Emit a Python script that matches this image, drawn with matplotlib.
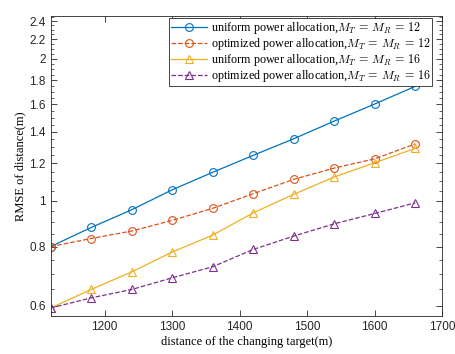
import numpy as np
import matplotlib
matplotlib.use("Agg")
import matplotlib.pyplot as plt
from matplotlib.ticker import FixedLocator, NullFormatter, FixedFormatter

x = [1120, 1180, 1240, 1300, 1360, 1420, 1480, 1540, 1600, 1660]
uniform_12 = [0.800, 0.878, 0.957, 1.055, 1.149, 1.248, 1.353, 1.475, 1.603, 1.747]
optimized_12 = [0.800, 0.832, 0.863, 0.909, 0.964, 1.035, 1.110, 1.173, 1.227, 1.320]
uniform_16 = [0.593, 0.649, 0.707, 0.779, 0.846, 0.943, 1.032, 1.123, 1.204, 1.291]
optimized_16 = [0.593, 0.623, 0.649, 0.687, 0.725, 0.789, 0.842, 0.894, 0.940, 0.990]

labels = [
    r"uniform power allocation,$M_T\,=\,M_R\,=\,12$",
    r"optimized power allocation,$M_T\,=\,M_R\,=\,12$",
    r"uniform power allocation,$M_T\,=\,M_R\,=\,16$",
    r"optimized power allocation,$M_T\,=\,M_R\,=\,16$",
]
xticks = [1200, 1300, 1400, 1500, 1600, 1700]
yticks = [0.6, 0.8, 1, 1.2, 1.4, 1.6, 1.8, 2, 2.2, 2.4]
ytick_labels = ["0.6", "0.8", "1", "1.2", "1.4", "1.6", "1.8", "2", "2.2", "2.4"]

plt.rcParams['mathtext.fontset'] = 'cm'

fig = plt.figure(figsize=(4.56, 3.54), dpi=100)
ax = fig.add_axes([0.111, 0.107, 0.859, 0.8475])

styles = [
    dict(color="#0072BD", ls="-", marker="o"),
    dict(color="#D95319", ls="--", marker="o"),
    dict(color="#EDB120", ls="-", marker="^"),
    dict(color="#7E2F8E", ls="--", marker="^"),
]
for ys, lab, st in zip([uniform_12, optimized_12, uniform_16, optimized_16], labels, styles):
    ax.plot(x, ys, color=st["color"], ls=st["ls"], marker=st["marker"],
            markersize=5.6, markerfacecolor="none", markeredgewidth=0.8,
            linewidth=0.9, label=lab)

ax.set_yscale("log")
ax.set_xlim(1120, 1700)
ax.set_ylim(0.57, 2.46)
ax.yaxis.set_major_locator(FixedLocator(yticks))
ax.yaxis.set_major_formatter(FixedFormatter(ytick_labels))
minor = [v for v in np.round(np.arange(0.6, 2.46, 0.05), 2) if not any(abs(v - t) < 1e-6 for t in yticks)]
ax.yaxis.set_minor_locator(FixedLocator(minor))
ax.yaxis.set_minor_formatter(NullFormatter())
ax.set_xticks(xticks)

ax.tick_params(which="both", direction="in", top=True, right=True, labelsize=8.5, colors="#262626")
ax.tick_params(which="major", length=4, width=0.6)
ax.tick_params(which="minor", length=2.2, width=0.5)
for lab in ax.get_xticklabels() + ax.get_yticklabels():
    lab.set_fontfamily("Liberation Sans")
for sp in ax.spines.values():
    sp.set_linewidth(0.6)
    sp.set_color("#262626")

ax.set_xlabel("distance of the changing target(m)", family="Liberation Serif", fontsize=9, labelpad=2)
ax.set_ylabel("RMSE of distance(m)", family="Liberation Serif", fontsize=9, labelpad=2)

leg = ax.legend(loc="upper right", bbox_to_anchor=(0.974, 0.993),
                prop={"family": "Liberation Serif", "size": 8.7},
                fancybox=False, edgecolor="#262626", framealpha=1,
                borderpad=0.15, labelspacing=0.0, handlelength=3.0, handletextpad=0.25,
                borderaxespad=0.0)
leg.get_frame().set_linewidth(0.6)

fig.savefig("out.png", dpi=100)
